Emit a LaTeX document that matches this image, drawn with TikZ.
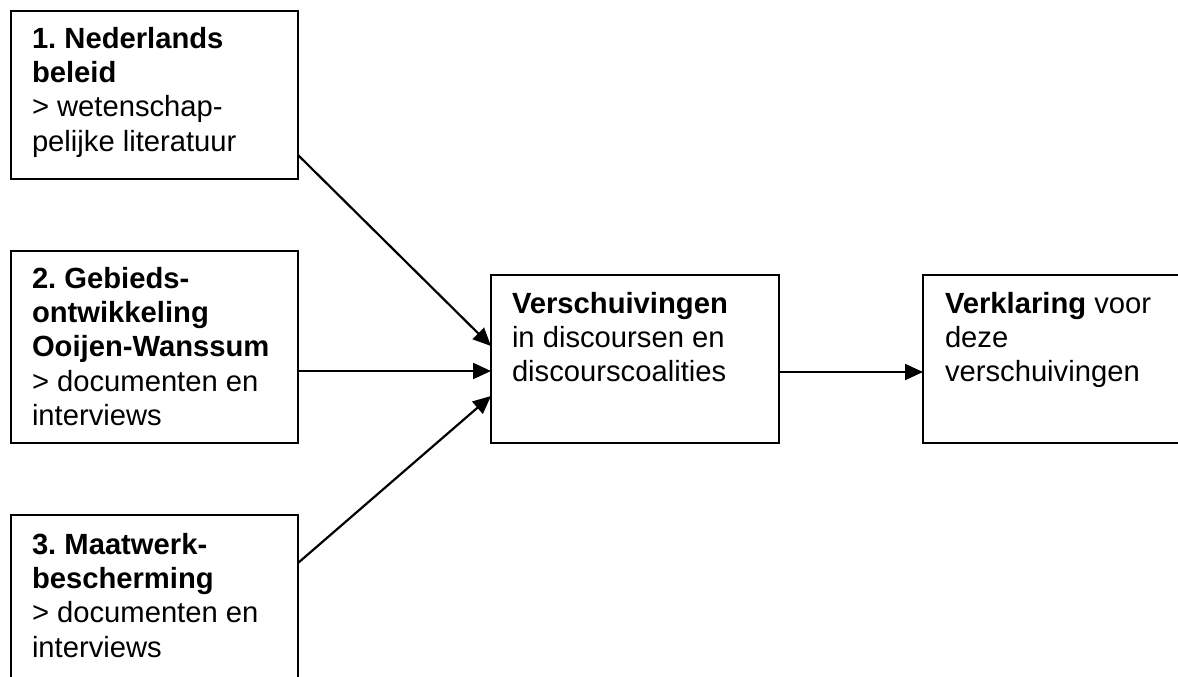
\documentclass[tikz,border=0pt]{standalone}
\usepackage{fontspec}
\setmainfont{Liberation Sans}
\usetikzlibrary{arrows.meta,calc}
\frenchspacing
\begin{document}
\begin{tikzpicture}[x=1pt,y=-1pt,
  box/.style={draw=black, line width=1.7pt, inner sep=0pt, outer sep=0pt, anchor=north west},
  txt/.style={anchor=north west, inner sep=0pt, outer sep=0pt, align=left, text=black,
    font=\fontsize{29.2}{34.4}\selectfont},
  arr/.style={draw=black, line width=2.2pt, -{Triangle[length=18pt,width=16pt]}}]
\useasboundingbox (0,0) rectangle (1178,677);
\clip (0,0) rectangle (1178,677);
\fill[white] (0,0) rectangle (1178,677);
% boxes
\node[box, minimum width=287pt, minimum height=168pt] (b1) at (11,11) {};
\node[box, minimum width=287pt, minimum height=192pt] (b2) at (11,251) {};
\node[box, minimum width=287pt, minimum height=190pt] (b3) at (11,515) {};
\node[box, minimum width=288pt, minimum height=168pt] (m) at (491,275) {};
\node[box, minimum width=290pt, minimum height=168pt] (r) at (923,275) {};
% texts
\node[txt] (t1) at (32,24) {\rule{0pt}{24pt}\textbf{1. Nederlands}\\\textbf{beleid}\\> wetenschap-\\pelijke literatuur};
\node[txt] (t2) at (32,264) {\rule{0pt}{24pt}\textbf{2. Gebieds-}\\\textbf{ontwikkeling}\\\textbf{Ooijen-Wanssum}\\> documenten en\\interviews};
\node[txt] (t3) at (32,530) {\rule{0pt}{24pt}\textbf{3. Maatwerk-}\\\textbf{bescherming}\\> documenten en\\interviews};
\node[txt] (tm) at (512,289) {\rule{0pt}{24pt}\textbf{Verschuivingen}\\in discoursen en\\discourscoalities};
\node[txt] (tr) at (945,289) {\rule{0pt}{24pt}\textbf{Verklaring} voor\\deze\\verschuivingen};
% connectors
\draw[arr] ($(b1.north east)+(0,144)$) -- ($(m.north west)+(0,71)$);
\draw[arr] ($(b2.north east)+(0,120)$) -- ($(m.north west)+(0,96)$);
\draw[arr] ($(b3.north east)+(0,48)$) -- ($(m.north west)+(0,121)$);
\draw[arr] ($(m.north east)+(0,97)$) -- ($(r.north west)+(0,97)$);
\end{tikzpicture}
\end{document}
